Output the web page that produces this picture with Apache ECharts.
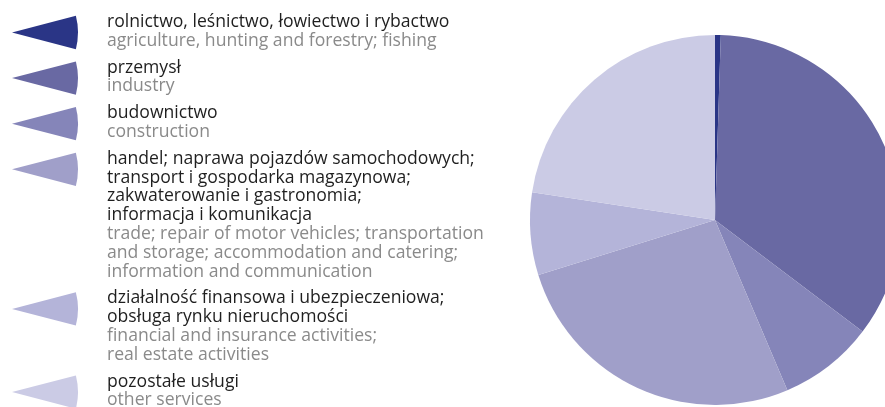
<!DOCTYPE html>
<html>
<head>
<meta charset="utf-8">
<script src="https://cdn.jsdelivr.net/npm/echarts@6/dist/echarts.min.js"></script>
<style>
html,body{margin:0;padding:0;background:#fff;}
#chart{width:885px;height:407px;}
</style>
</head>
<body>
<div id="chart"></div>
<script>
const categoriesPl = [
  ["rolnictwo, leśnictwo, łowiectwo i rybactwo"],
  ["przemysł"],
  ["budownictwo"],
  ["handel; naprawa pojazdów samochodowych;", "transport i gospodarka magazynowa;", "zakwaterowanie i gastronomia;", "informacja i komunikacja"],
  ["działalność finansowa i ubezpieczeniowa;", "obsługa rynku nieruchomości"],
  ["pozostałe usługi"]
];
const categoriesEn = [
  ["agriculture, hunting and forestry; fishing"],
  ["industry"],
  ["construction"],
  ["trade; repair of motor vehicles; transportation", "and storage; accommodation and catering;", "information and communication"],
  ["financial and insurance activities;", "real estate activities"],
  ["other services"]
];
const values = [0.5, 34.8, 8.3, 26.6, 7.2, 22.6];
const colors = ["#2a3586", "#6969a3", "#8585b9", "#a09fc9", "#b4b4d9", "#cbcbe5"];

const chart = echarts.init(document.getElementById('chart'), null, {renderer: 'canvas'});

const LH = 18.8, GAP = 8, TOP = 22, TX = 107;
const FONT = '17.6px "Open Sans"';
const graphics = [];
let y = TOP;
categoriesPl.forEach((pl, i) => {
  const first = y;
  pl.forEach(line => {
    graphics.push({type: 'text', x: TX, y: y, style: {text: line, font: FONT, fill: '#1f1f1f', verticalAlign: 'middle'}});
    y += LH;
  });
  categoriesEn[i].forEach(line => {
    graphics.push({type: 'text', x: TX, y: y, style: {text: line, font: FONT, fill: '#8a8a8a', verticalAlign: 'middle'}});
    y += LH;
  });
  graphics.push({type: 'sector', shape: {cx: 12, cy: first + 10.5, r: 66, startAngle: -0.255, endAngle: 0.255}, style: {fill: colors[i]}});
  y += GAP;
});

chart.setOption({
  animation: false,
  backgroundColor: '#ffffff',
  color: colors,
  graphic: graphics,
  series: [{
    type: 'pie',
    center: [715, 220],
    radius: 185,
    startAngle: 90,
    clockwise: true,
    label: {show: false},
    labelLine: {show: false},
    itemStyle: {borderWidth: 0},
    emphasis: {disabled: true},
    data: values.map((v, i) => ({name: categoriesEn[i].join(' '), value: v}))
  }]
});
</script>
</body>
</html>
